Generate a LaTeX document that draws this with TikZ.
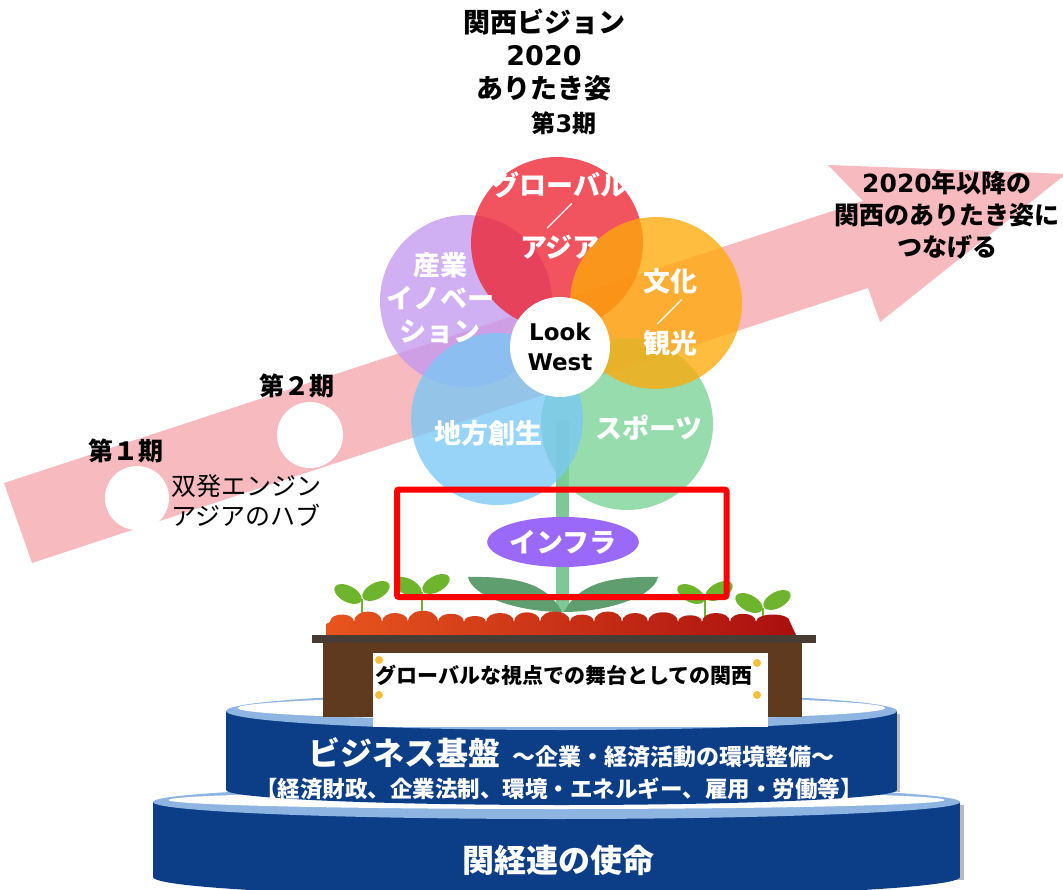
\documentclass[tikz,border=0pt]{standalone}
\usepackage{fontspec}
\setmainfont{Noto Sans CJK JP}
\newfontfamily\lat{DejaVu Sans}
\usetikzlibrary{shapes.geometric}

\definecolor{arrowpink}{RGB}{247,186,191}
\definecolor{petalred}{RGB}{238,36,50}
\definecolor{petalviolet}{RGB}{196,152,240}
\definecolor{petalorange}{RGB}{255,170,10}
\definecolor{petalblue}{RGB}{122,200,246}
\definecolor{petalgreen}{RGB}{122,210,150}
\definecolor{stemgreen}{RGB}{125,200,150}
\definecolor{leafgreen}{RGB}{95,158,110}
\definecolor{sproutgreen}{RGB}{110,180,45}
\definecolor{infraviolet}{RGB}{155,105,250}
\definecolor{soilorange}{RGB}{232,85,30}
\definecolor{soilred}{RGB}{170,15,15}
\definecolor{boardbrown}{RGB}{72,60,52}
\definecolor{woodbrown}{RGB}{95,58,30}
\definecolor{tierblue}{RGB}{12,62,135}
\definecolor{rimblue}{RGB}{142,180,226}
\definecolor{pinyellow}{RGB}{248,190,60}

\begin{document}
\begin{tikzpicture}[x=1pt, y=-1pt]
\tikzstyle{every node}=[inner sep=0pt, align=center]
\tikzstyle{petal}=[circle, minimum size=172pt, fill opacity=0.78]
\tikzstyle{petaltext}=[text=white, font=\bfseries\fontsize{27}{31}\selectfont]
\tikzstyle{tiertext}=[text=white]
\path[use as bounding box] (0,0) rectangle (1063,890);
\clip (0,0) rectangle (1063,890);

\fill[arrowpink] (4,483) -- (863,201) -- (828,165) -- (1066,174) -- (880,322) -- (868,288) -- (32,563) -- cycle;
\node[circle, fill=white, minimum size=64pt] (first) at (137,498) {};
\node[circle, fill=white, minimum size=66pt] (second) at (310,435) {};
\node[font=\bfseries\fontsize{25}{30}\selectfont] (firstlbl) at (126,451) {第１期};
\node[font=\bfseries\fontsize{25}{30}\selectfont] (secondlbl) at (297,386) {第２期};
\node[font=\fontsize{25}{30}\selectfont, align=left, anchor=west] (firsttxt) at (171,500) {双発エンジン\\アジアのハブ};
\node[font=\bfseries\fontsize{25}{32}\selectfont] (future) at (947,215) {{\lat 2020}年以降の\\関西のありたき姿に\\つなげる};

\node[font=\bfseries\fontsize{27}{33}\selectfont] (vision) at (544,55) {関西ビジョン\\{\lat 2020}\\ありたき姿};
\node[font=\bfseries\fontsize{24}{30}\selectfont] (thirdlbl) at (564,123) {第{\lat 3}期};

\fill[stemgreen] (556,420) rectangle (569,612);
\foreach \n/\x/\y/\c in {industry/466/301/petalviolet, global/557/243/petalred, sports/627/424/petalgreen, regions/497/419/petalblue, culture/656/303/petalorange}
  \node[petal, fill=\c] (\n) at (\x,\y) {};
\node[petaltext] (globaltxt) at (560,216) {グローバル\\／\\アジア};
\node[petaltext, font=\bfseries\fontsize{27}{33}\selectfont] (industrytxt) at (440,298) {産業\\イノベー\\ション};
\node[petaltext] (culturetxt) at (670,312) {文化\\／\\観光};
\node[petaltext] (regionstxt) at (488,433) {地方創生};
\node[petaltext] (sportstxt) at (649,428) {スポーツ};
\node[circle, fill=white, minimum size=100pt, font=\lat\bfseries\fontsize{23}{30}\selectfont] (look) at (560,347) {Look\\West};

\node[ellipse, fill=infraviolet, minimum width=150pt, minimum height=50pt, text=white, font=\bfseries\fontsize{27}{30}\selectfont] (infra) at (563,542) {インフラ};

\fill[leafgreen] (562,612) .. controls (548,585) and (520,576) .. (468,577) .. controls (472,597) and (520,612) .. (562,612);
\fill[leafgreen] (564,612) .. controls (578,585) and (606,576) .. (658,577) .. controls (654,597) and (606,612) .. (564,612);
\foreach \x/\y in {362/611, 422/604, 705/611, 763/620}
{
\draw[sproutgreen, line width=2.5pt] (\x,\y+12) -- (\x,\y-12);
\fill[sproutgreen, rotate around={-28:(\x-14,\y-17)}] (\x-14,\y-17) ellipse [x radius=15pt, y radius=8pt];
\fill[sproutgreen, rotate around={28:(\x+14,\y-20)}] (\x+14,\y-20) ellipse [x radius=15pt, y radius=8pt];
}
\shade[left color=soilorange, right color=soilred] (326,635) -- (326,624) -- (330,622)
  \foreach \w/\h in {24/10, 28/14, 26/12, 30/15, 26/11, 22/8, 28/12, 26/13, 30/14, 24/10, 28/14, 26/12, 30/13, 24/9, 28/12, 26/11, 34/10}
  { .. controls +(0,-\h) and +(0,-\h) .. ++(\w,0) } -- (796,635) -- cycle;

\draw[red, line width=6pt, rounded corners=2pt] (397,489.5) rectangle (726.5,597);

\fill[gray!55] (157,805) rectangle (964,880);
\fill[tierblue] (153,802) rectangle (960,877);
\fill[tierblue] (556.5,877) ellipse [x radius=403.5pt, y radius=20pt];
\fill[rimblue] (556.5,802) ellipse [x radius=403.5pt, y radius=17pt];
\fill[white] (556.5,800) ellipse [x radius=388pt, y radius=9pt];

\fill[gray!55] (230,714) rectangle (900,792);
\fill[tierblue] (226,711) rectangle (897,790);
\fill[tierblue] (561.5,790) ellipse [x radius=335.5pt, y radius=15pt];
\fill[rimblue] (561.5,711) ellipse [x radius=335.5pt, y radius=19pt];
\fill[white] (561.5,708) ellipse [x radius=324pt, y radius=12pt];

\fill[boardbrown] (312,635) rectangle (816,643);
\fill[woodbrown] (323,643) rectangle (802,717);
\fill[white] (373,653) rectangle (768,727);
\foreach \x/\y in {379/660, 379/695, 757/663, 757/695}
  \fill[pinyellow] (\x,\y) circle (4pt);
\node[font=\bfseries\fontsize{21}{25}\selectfont] (stage) at (564,675) {グローバルな視点での舞台としての関西};

\node[tiertext, font=\bfseries\fontsize{32}{36}\selectfont] (business) at (571,753) {ビジネス基盤\hspace{12pt}{\fontsize{23}{28}\selectfont ～企業・経済活動の環境整備～}};
\node[tiertext, font=\bfseries\fontsize{22.5}{27}\selectfont] (fields) at (559,789) {【経済財政、企業法制、環境・エネルギー、雇用・労働等】};
\node[tiertext, font=\bfseries\fontsize{32}{36}\selectfont] (mission) at (558,860) {関経連の使命};
\end{tikzpicture}
\end{document}
